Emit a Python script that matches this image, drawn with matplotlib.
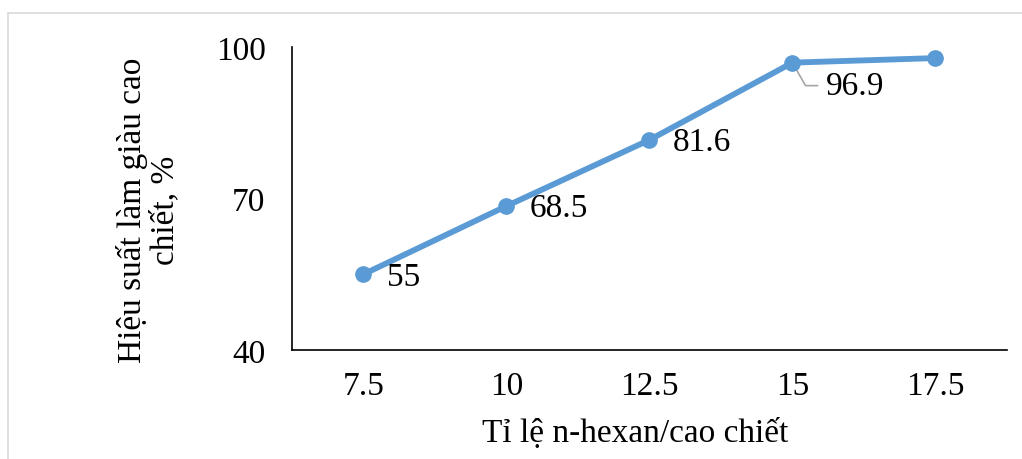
import matplotlib

matplotlib.use("Agg")
import matplotlib.pyplot as plt
from matplotlib.patches import Rectangle

plt.rcParams["font.family"] = ["Liberation Serif", "DejaVu Serif"]

ratios = ["7.5", "10", "12.5", "15", "17.5"]
yields = [55.0, 68.5, 81.6, 96.9, 97.8]
# points that carry a value label (last one is left unlabelled)
labelled = [True, True, True, True, False]

LINE_BLUE = "#5B9BD5"
FS = 24


def main() -> None:
    fig = plt.figure(figsize=(10.22, 4.6), dpi=100)
    ax = fig.add_axes([0.2857, 0.2370, 0.6996, 0.6587])

    # light chart-area border
    fig.patches.append(
        Rectangle((8 / 1022, -0.1), 1.2, 1 - 14 / 460 + 0.1,
                  transform=fig.transFigure, fill=False,
                  edgecolor="#D9D9D9", linewidth=1.2)
    )

    x = range(len(ratios))
    ax.plot(x, yields, color=LINE_BLUE, linewidth=4.2, marker="o",
            markersize=11, solid_capstyle="round", zorder=3)

    ax.set_xlim(-0.5, len(ratios) - 0.5)
    ax.set_ylim(40, 100)
    ax.set_yticks([40, 70, 100])
    ax.set_xticks(list(x))
    ax.set_xticklabels(ratios)
    ax.tick_params(axis="y", length=0, pad=19, labelsize=FS)
    ax.tick_params(axis="x", length=0, pad=15, labelsize=FS)

    for side in ("top", "right"):
        ax.spines[side].set_visible(False)
    for side in ("left", "bottom"):
        ax.spines[side].set_color("black")
        ax.spines[side].set_linewidth(1.2)

    inv = ax.transData.inverted()
    for i, (val, show) in enumerate(zip(yields, labelled)):
        if not show:
            continue
        txt = f"{val:g}"
        if i == 3:
            # label pulled away from the point, with a leader line
            ax.annotate(txt, xy=(i, val), xytext=(24, -17),
                        textcoords="offset points", fontsize=FS,
                        ha="left", va="center")
            lx0, ly0 = ax.transData.transform((i, val))
            pts = [(lx0, ly0), (lx0 + 13, ly0 - 23), (lx0 + 25, ly0 - 23)]
            data_pts = [inv.transform(p) for p in pts]
            ax.plot([p[0] for p in data_pts], [p[1] for p in data_pts],
                    color="#A6A6A6", linewidth=1.2, zorder=2)
        else:
            ax.annotate(txt, xy=(i, val), xytext=(17, -1.5),
                        textcoords="offset points", fontsize=FS,
                        ha="left", va="center")

    ax.set_xlabel("Tỉ lệ n-hexan/cao chiết", fontsize=FS)
    ax.xaxis.set_label_coords(0.48, -0.22)
    fig.text(0.145, 0.543, "Hiệu suất làm giàu cao\nchiết, %", fontsize=FS,
             rotation=90, ha="center", va="center", multialignment="center",
             linespacing=1.05)

    fig.savefig("out.png", dpi=100)
    plt.close(fig)


if __name__ == "__main__":
    main()
